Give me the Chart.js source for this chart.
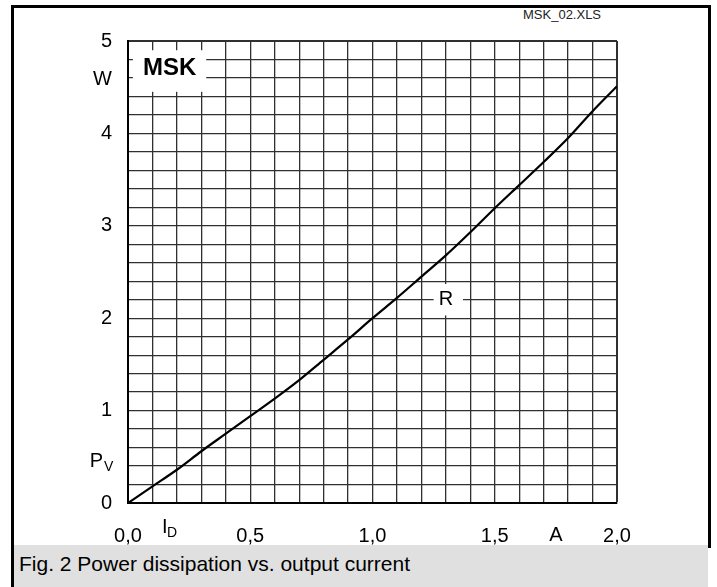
<!DOCTYPE html>
<html>
<head>
<meta charset="utf-8">
<script src="https://cdn.jsdelivr.net/npm/chart.js@4.4.1/dist/chart.umd.min.js"></script>
<style>
  body { margin: 0; background: #fff; font-family: "Liberation Sans", Arial, sans-serif; }
  #wrap { position: relative; width: 717px; height: 587px; overflow: hidden; }
  #frame { position: absolute; left: 11px; top: 5px; width: 694px; height: 540px;
           border: 3px solid #000; border-bottom: none; }
  #caption { position: absolute; left: 11px; top: 545px; width: 697px; height: 42px;
             border-left: 3px solid #000; background: #e0e0e0; box-sizing: border-box; }
  #caption span { position: absolute; left: 5px; top: 8px; font-size: 21px; line-height: 21px; color: #000; }
  #file { position: absolute; left: 523px; top: 8px; font-size: 13px; line-height: 13px; color: #222; }
  #chart { position: absolute; left: 0; top: 0; }
</style>
</head>
<body>
<div id="wrap">
  <div id="frame"></div>
  <div id="caption"><span>Fig. 2 Power dissipation vs. output current</span></div>
  <div id="file">MSK_02.XLS</div>
  <canvas id="chart" width="717" height="587"></canvas>
</div>
<script>
// output current I_D in A
const currentA = [0.0, 0.1, 0.2, 0.3, 0.4, 0.5, 0.6, 0.7, 0.8, 0.9, 1.0,
                  1.1, 1.2, 1.3, 1.4, 1.5, 1.6, 1.7, 1.8, 1.9, 2.0];
// power dissipation P_V in W (curve "R")
const powerW = [0.00, 0.18, 0.36, 0.56, 0.75, 0.94, 1.13, 1.33, 1.55, 1.77, 2.00,
                2.22, 2.45, 2.68, 2.93, 3.19, 3.44, 3.69, 3.95, 4.24, 4.51];

const xLabelValues = [0, 0.5, 1, 1.5, 2];
const xLabelTexts = ["0,0", "0,5", "1,0", "1,5", "2,0"];
const yLabelValues = [0, 1, 2, 3, 4, 5];
const yLabelTexts = ["0", "1", "2", "3", "4", "5"];

const FONT = '"Liberation Sans", Arial, sans-serif';

function findLabel(values, texts, v) {
    const i = values.findIndex(t => Math.abs(t - v) < 1e-6);
    return i >= 0 ? texts[i] : "";
}

// unit labels and the two white label boxes on the grid
const labelsPlugin = {
    id: "labels",
    afterDatasetsDraw(chart) {
        const ctx = chart.ctx;
        const xs = chart.scales.x, ys = chart.scales.y;
        ctx.save();

        // MSK box
        let x0 = xs.getPixelForValue(0.02), x1 = xs.getPixelForValue(0.32);
        let y0 = ys.getPixelForValue(4.9), y1 = ys.getPixelForValue(4.45);
        ctx.fillStyle = "#fff";
        ctx.fillRect(x0, y0, x1 - x0, y1 - y0);
        ctx.fillStyle = "#000";
        ctx.font = "bold 24px " + FONT;
        ctx.textAlign = "center";
        ctx.textBaseline = "middle";
        ctx.fillText("MSK", xs.getPixelForValue(0.17), ys.getPixelForValue(4.70));

        // R box
        x0 = xs.getPixelForValue(1.25); x1 = xs.getPixelForValue(1.37);
        y0 = ys.getPixelForValue(2.37); y1 = ys.getPixelForValue(2.03);
        ctx.fillStyle = "#fff";
        ctx.fillRect(x0, y0, x1 - x0, y1 - y0);
        ctx.fillStyle = "#000";
        ctx.font = "20px " + FONT;
        ctx.fillText("R", xs.getPixelForValue(1.3), ys.getPixelForValue(2.2));

        // axis units
        ctx.textAlign = "right";
        ctx.fillText("W", 112, ys.getPixelForValue(4.58));
        const pvY = ys.getPixelForValue(0.45);
        ctx.fillText("P", 103, pvY);
        ctx.font = "14px " + FONT;
        ctx.textAlign = "left";
        ctx.fillText("V", 104, pvY + 6);

        const unitY = chart.chartArea.bottom + 32;
        ctx.font = "20px " + FONT;
        ctx.textAlign = "center";
        ctx.fillText("A", xs.getPixelForValue(1.75), unitY);
        ctx.textAlign = "left";
        ctx.fillText("I", 162, unitY - 8);
        ctx.font = "14px " + FONT;
        ctx.fillText("D", 167, unitY - 2);
        ctx.restore();
    }
};

new Chart(document.getElementById("chart"), {
    type: "line",
    data: {
        datasets: [{
            label: "R",
            data: currentA.map((a, i) => ({ x: a, y: powerW[i] })),
            borderColor: "#000",
            borderWidth: 2.2,
            pointRadius: 0,
            cubicInterpolationMode: "monotone",
            fill: false
        }]
    },
    options: {
        responsive: false,
        animation: false,
        layout: { padding: { top: 41, right: 100, left: 0, bottom: 0 } },
        plugins: { legend: { display: false }, tooltip: { enabled: false } },
        scales: {
            x: {
                type: "linear",
                min: 0,
                max: 2,
                afterBuildTicks: s => { s.ticks = currentA.map(v => ({ value: v })); },
                afterFit: s => { s.height = 84; },
                grid: {
                    color: "#303030",
                    lineWidth: c => (c.tick && Math.abs(c.tick.value - 2) < 1e-6 ? 2 : 1.3),
                    drawTicks: false
                },
                border: { display: true, color: "#000", width: 2 },
                ticks: {
                    autoSkip: false,
                    maxRotation: 0,
                    padding: 21,
                    color: "#000",
                    font: { family: FONT, size: 20 },
                    callback: v => findLabel(xLabelValues, xLabelTexts, v)
                }
            },
            y: {
                type: "linear",
                min: 0,
                max: 5,
                afterBuildTicks: s => {
                    const t = [];
                    for (let i = 0; i <= 25; i++) t.push({ value: i / 5 });
                    s.ticks = t;
                },
                afterFit: s => { s.width = 128; },
                grid: {
                    color: "#303030",
                    lineWidth: c => (c.tick && Math.abs(c.tick.value - 5) < 1e-6 ? 2 : 1.3),
                    drawTicks: false
                },
                border: { display: true, color: "#000", width: 2 },
                ticks: {
                    autoSkip: false,
                    padding: 16,
                    color: "#000",
                    font: { family: FONT, size: 20 },
                    callback: v => findLabel(yLabelValues, yLabelTexts, v)
                }
            }
        }
    },
    plugins: [labelsPlugin]
});
</script>
</body>
</html>
